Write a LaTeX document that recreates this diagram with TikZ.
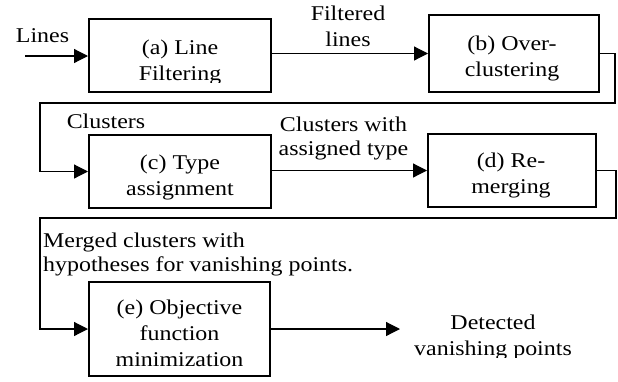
\documentclass[tikz,border=0pt]{standalone}
\usepackage{fontspec}
\setmainfont{Liberation Serif}[FakeStretch=1.14]
\usetikzlibrary{arrows.meta}
\begin{document}
\begin{tikzpicture}[x=1pt,y=-1pt,
  box/.style={draw,line width=2pt,inner sep=0pt},
  txt/.style={align=center,font=\fontsize{21}{26}\selectfont,inner sep=0pt},
  lbl/.style={align=center,font=\fontsize{21}{26}\selectfont,inner sep=0pt},
  lbltight/.style={font=\fontsize{21}{24}\selectfont,inner sep=0pt},
  link/.style={line width=1.2pt,-{Triangle[length=14pt,width=14pt]}},
  plain/.style={line width=1.2pt}]
\useasboundingbox (0,0) rectangle (618,381);

% boxes
\node[box,minimum width=182pt,minimum height=73pt] (a) at (180,55.5) {};
\node[box,minimum width=170pt,minimum height=77pt] (b) at (514,53.5) {};
\node[box,minimum width=182pt,minimum height=73pt] (c) at (180,171.5) {};
\node[box,minimum width=168pt,minimum height=73pt] (d) at (512,170.5) {};
\node[box,minimum width=181pt,minimum height=94pt] (e) at (179.5,329) {};

% box texts (base anchor = baseline of last line)
\begin{scope}
  \clip (88,18) rectangle (272,82);
  \node[txt,anchor=base] (ta) at (180,80) {(a) Line\\Filtering};
\end{scope}
\node[txt,anchor=base] (tb) at (512,76) {(b) Over-\\clustering};
\node[txt,anchor=base] (tc) at (180,195) {(c) Type\\assignment};
\node[txt,anchor=base] (td) at (511,193) {(d) Re-\\merging};
\begin{scope}
  \clip (88,281) rectangle (271,366);
  \node[txt,anchor=base] (te) at (179.5,366) {(e) Objective\\function\\minimization};
\end{scope}

% coordinates
\coordinate (in) at (25,56);
\coordinate (r1) at (615,103);
\coordinate (l1) at (40,103);
\coordinate (r2) at (616,218);
\coordinate (l2) at (40,218);
\coordinate (out) at (400,329);

% connectors
\draw[link] (in) -- (in -| a.west);
\draw[link] (a.east |- b.west) -- (b.west);
\draw[link] (b.east) -| (r1) -- (l1) |- (c.west);
\draw[link] (c.east |- d.west) -- (d.west);
\draw[link] (d.east) -| (r2) -- (l2) |- (e.west);
\draw[link] (e.east) -- (out);

% labels
\node[lbl,anchor=base] (llines) at (42.5,42) {Lines};
\node[lbl,anchor=base] (lfilt) at (348,46.5) {Filtered\\lines};
\node[lbl,anchor=base] (lclus) at (106,128) {Clusters};
\node[lbltight,align=center,anchor=base] (lcwt) at (343.5,155) {Clusters with\\assigned type};
\node[lbltight,align=left,anchor=base west] (lmerg) at (43,271) {Merged clusters with\\hypotheses for vanishing points.};
\begin{scope}
  \clip (380,300) rectangle (618,357);
  \node[lbl,anchor=base] (ldet) at (493,355) {Detected\\vanishing points};
\end{scope}
\end{tikzpicture}
\end{document}
